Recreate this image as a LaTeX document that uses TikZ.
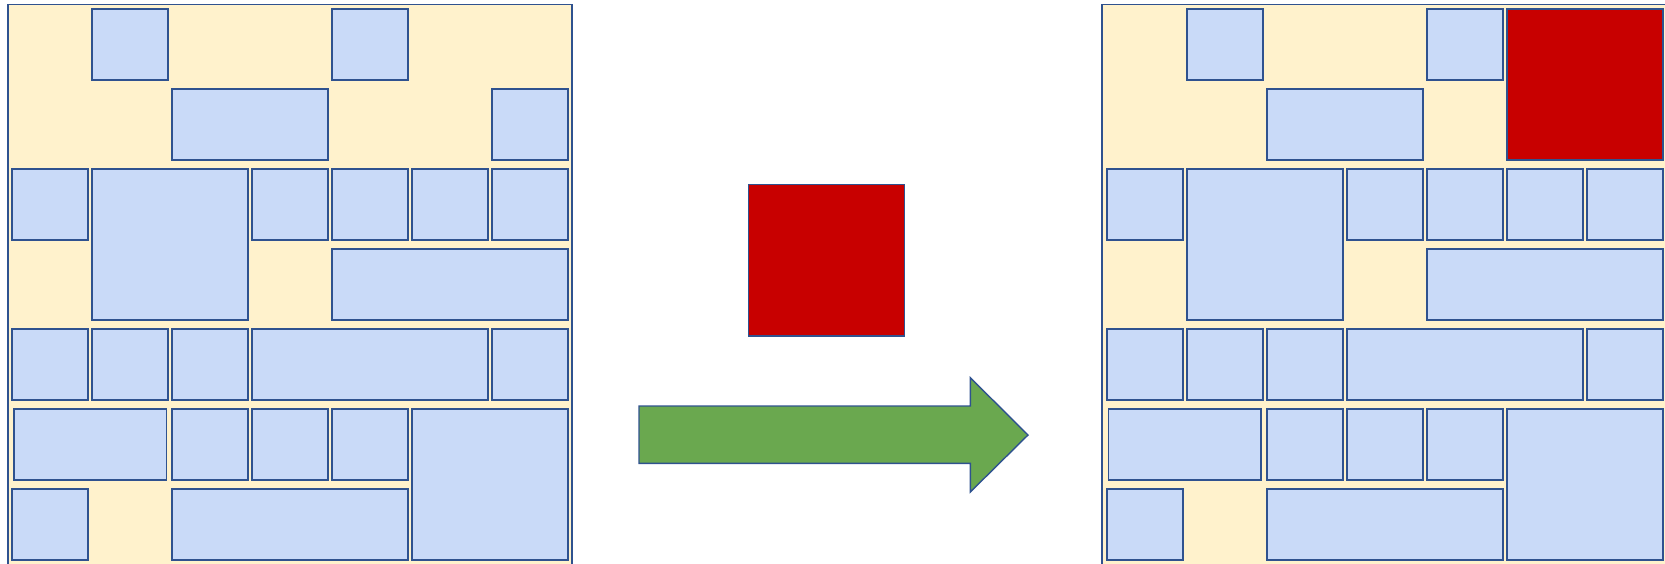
\documentclass[tikz,border=0pt]{standalone}
\usepackage{tikz}

\definecolor{sheet}{HTML}{FFF2CC}
\definecolor{tilefill}{HTML}{C9DAF8}
\definecolor{edge}{HTML}{2F528F}
\definecolor{newred}{HTML}{C80000}
\definecolor{arrowgreen}{HTML}{6AA84F}

\tikzset{
  panel/.style={fill=sheet, draw=edge, line width=0.7pt},
  tilebox/.style={fill=tilefill, draw=edge, line width=0.8pt},
  newbox/.style={fill=newred, draw=edge, line width=0.8pt},
  bigarrow/.style={fill=arrowgreen, draw=edge, line width=0.7pt, line join=miter}
}

% tile at column #1, row #2, spanning #3 columns and #4 rows
\newcommand{\placetile}[5][tilebox]{%
  \draw[#1] ({12.2+80*#2},{9+80*#3}) rectangle ({12.2+80*(#2+#4)-4},{9+80*(#3+#5)-9});}

\begin{document}
\begin{tikzpicture}[x=0.5pt, y=-0.5pt]
\clip (0,0) rectangle (1665,563);

% left sheet
\draw[panel] (7.8,4.3) rectangle (572,580);
\placetile{1}{0}{1}{1} \placetile{4}{0}{1}{1}
\placetile{2}{1}{2}{1} \placetile{6}{1}{1}{1}
\placetile{0}{2}{1}{1} \placetile{1}{2}{2}{2}
\foreach \c in {3,...,6} {\placetile{\c}{2}{1}{1}}
\placetile{4}{3}{3}{1}
\foreach \c in {0,1,2} {\placetile{\c}{4}{1}{1}}
\placetile{3}{4}{3}{1} \placetile{6}{4}{1}{1}
\draw[tilebox] (13.7,409) rectangle (166.5,480);
\foreach \c in {2,3,4} {\placetile{\c}{5}{1}{1}}
\placetile{5}{5}{2}{2}
\placetile{0}{6}{1}{1} \placetile{2}{6}{3}{1}

% incoming block and arrow
\draw[newbox] (748.3,184.3) rectangle (904.3,335.7);
\draw[bigarrow] (639,406) -- (970.3,406) -- (970.3,377.7) -- (1028,435)
  -- (970.3,492) -- (970.3,463.3) -- (639,463.3) -- cycle;

% right sheet, block placed top right
\begin{scope}[xshift=1095*0.5pt]
\draw[panel] (7.1,4.3) rectangle (600,580);
\placetile{1}{0}{1}{1} \placetile{4}{0}{1}{1}
\placetile[newbox]{5}{0}{2}{2}
\placetile{2}{1}{2}{1}
\placetile{0}{2}{1}{1} \placetile{1}{2}{2}{2}
\foreach \c in {3,...,6} {\placetile{\c}{2}{1}{1}}
\placetile{4}{3}{3}{1}
\foreach \c in {0,1,2} {\placetile{\c}{4}{1}{1}}
\placetile{3}{4}{3}{1} \placetile{6}{4}{1}{1}
\draw[tilebox] (13.3,409) rectangle (166.2,480);
\foreach \c in {2,3,4} {\placetile{\c}{5}{1}{1}}
\placetile{5}{5}{2}{2}
\placetile{0}{6}{1}{1} \placetile{2}{6}{3}{1}
\end{scope}
\end{tikzpicture}
\end{document}
